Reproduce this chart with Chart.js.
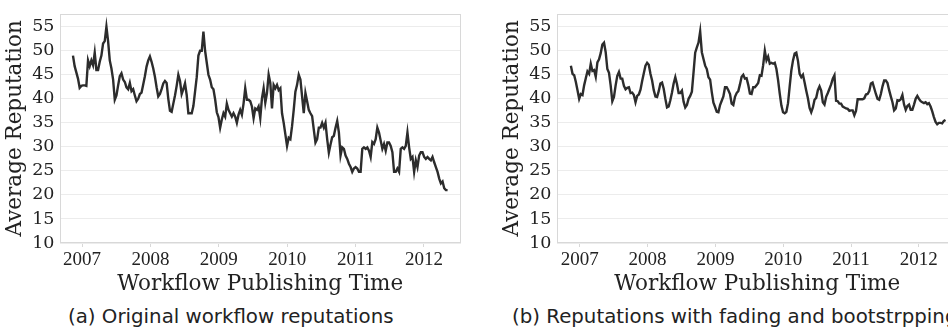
<!DOCTYPE html>
<html>
<head>
<meta charset="utf-8">
<script src="https://cdn.jsdelivr.net/npm/chart.js@4/dist/chart.umd.min.js"></script>
<style>
  html, body { margin: 0; padding: 0; background: #fff; }
  body { width: 948px; height: 330px; overflow: hidden; position: relative; }
  .box { position: absolute; top: 0; width: 474px; height: 300px; }
  #b1 { left: 0; }
  #b2 { left: 497px; }
  .cap { position: absolute; top: 305px; line-height: 24px; font-family: 'DejaVu Sans', sans-serif;
         font-size: 19.8px; color: #222; white-space: nowrap; }
  #cap1 { left: 68px; }
  #cap2 { left: 512px; }
</style>
</head>
<body>
<div class="box" id="b1"><canvas id="c1" width="474" height="300"></canvas></div>
<div class="box" id="b2"><canvas id="c2" width="474" height="300"></canvas></div>
<div class="cap" id="cap1">(a) Original workflow reputations</div>
<div class="cap" id="cap2">(b) Reputations with fading and bootstrpping</div>
<script>
// ---- data ----
const START_YEAR = 2006.868;      // first sample
const STEP_YEARS = 0.02445;       // sample spacing (years)
const yearTicks = [2007, 2008, 2009, 2010, 2011, 2012];
const repTicks = [10, 15, 20, 25, 30, 35, 40, 45, 50, 55];
const xTitle = 'Workflow Publishing Time';
const yTitle = 'Average Reputation';

// (a) original workflow reputations
const originalRep = [
  49, 46.8, 45.5, 44.2, 42.3, 42.7, 42.8, 42.8, 42.7, 48,
  46.8, 48, 47, 49.6, 46, 46, 47.7, 49, 51.5, 52,
  55, 52, 48, 46.3, 44, 39.8, 40.7, 42.8, 44.7, 45.3,
  44, 43.5, 42.4, 42, 43.3, 41.6, 42, 40.7, 39.5, 40,
  41, 41.3, 43, 44.7, 46.7, 48, 48.8, 47.7, 46.3, 44.6,
  42.4, 40.5, 41, 42, 43.2, 43.7, 43.3, 40, 37.5, 37.3,
  39, 40.7, 42.7, 45, 43.7, 41, 42, 43.2, 40.8, 37,
  37, 37, 38.5, 41.5, 44.5, 49, 50, 50, 54, 50,
  47.5, 45, 44, 42.4, 42, 39.9, 37.2, 36.2,
  34, 35.7, 37, 36.3, 39, 37.7, 37, 36.3, 37, 36.3,
  35, 36.7, 37.7, 36.7, 39, 42.2, 39.8, 39.8, 39.5, 38.4,
  36, 38, 37.7, 38.4, 36, 40.1, 42.2, 39.2, 41.2, 45,
  43.3, 38, 42.9, 42.2, 42.9, 41.8, 42.2, 37, 35, 32.6,
  30.2, 31.9, 31.6, 34.3, 37.7, 41.5, 42.9, 45, 44, 40.5,
  37, 41.2, 39.5, 37.7, 37, 36.4, 33.6, 30.9, 31.6, 34,
  34, 35, 34, 35, 31.6, 28.8,
  30.5, 32, 32.3, 34, 35.4, 33, 28.2, 29.9, 29.6, 28.2,
  27.5, 26.5, 25.8, 24.8, 25.5, 25.8, 25.5, 24.8, 24.8, 29.6,
  29.9, 29.6, 29.9, 29.2, 27.9, 31, 30.6, 31.6, 34, 33,
  31.3, 29.6, 30.6, 29.2, 30.9, 30.9, 30.2, 28.9, 24.8, 24.8,
  25.5, 24.8, 29.6, 29.9, 29.6, 30.2, 33, 29.9, 27.5, 27.9,
  24.8, 27.2, 25.8, 28.2, 28.9, 28.9, 27.9, 27.5, 27.9, 27.5,
  27.2, 27.9, 26.8, 25.8, 24.8, 23.4, 22.4, 22.8, 21.4, 21,
  21
];

// (b) reputations with fading and bootstrapping
const fadedRep = [
  46.9, 45.2, 44.9, 43.5, 41.8, 40, 41, 40.8, 42.8, 44.3,
  45.7, 45.2, 47.3, 45.8, 46, 44.6, 47.6, 48.2, 49.5, 51.3,
  51.7, 49.7, 46.2, 45.4, 42.8, 39.5, 40.4, 42.8, 44.8, 45.6,
  44.2, 44.2, 42.7, 42, 42.3, 42.4, 41.2, 41.3, 40.8, 39.3,
  40.6, 40.9, 41.9, 43.7, 45.3, 46.9, 47.5, 47.1, 45.2, 43.8,
  41.8, 40.5, 40.4, 41.6, 43.2, 43.4, 42.1, 40, 38.2, 38.4,
  39.7, 41.3, 43.2, 44.5, 43.1, 41.2, 41.2, 41.7, 39.4, 38.2,
  38.7, 40, 40.6,
  41.5, 45.5, 49.6, 50.7, 51.7, 54, 49.7, 48.3, 46.9, 46.2,
  44.5, 44, 41.4, 39.2, 38.3, 37.3, 37.2, 38.7, 39.6, 40.5,
  42.4, 42.4, 41.8, 41, 39, 38.7, 40.4, 41.2, 41.6, 43,
  44.6, 45, 44.2, 44.3, 42.9, 41.1, 41, 42.4, 42.4, 42.8,
  43.3, 44.9, 44.8, 47, 50, 48, 48.8, 47.3, 47.5, 47.3,
  47.5, 46.2, 43.9, 41.1, 38.6, 37.2, 37, 37.3, 39.1, 42.6,
  45.9, 48, 49.4, 49.6, 47.9, 45.2, 44.5, 45, 43.4, 41.7,
  40.1, 38.1, 37.2, 38.2, 39.8, 40.2, 41.8, 42.6,
  41.7, 39.3, 38.8, 40.4, 41.2, 42.1, 43, 44.2, 44.9, 39.6,
  39.5, 39, 39, 38.4, 38.2, 38, 37.9, 37.5, 37.6, 37.6,
  36.6, 37.5, 39.9, 39.9, 39.9, 39.9, 40.1, 40.9, 41, 41.6,
  43.2, 43.4, 42.2, 41, 40, 39.8, 41, 42.6, 43.8, 43.8,
  43.3, 41.8, 40.5, 39.3, 37.6, 38, 39.7, 39.6, 39.9, 40.8,
  38.8, 37.7, 38.5, 38.8, 37.7, 37.7, 38.8, 40, 40.6, 40,
  39.5, 39.3, 39.1, 39.3, 38.9, 39.1, 38.4, 37.4, 36.2, 35.2,
  34.7, 35, 35, 34.9, 35.4, 35.6
];

// ---- chart building ----
const frame = {
  id: 'frame',
  beforeDatasetsDraw(chart) {
    const { ctx, chartArea: a } = chart;
    ctx.save();
    ctx.strokeStyle = '#d8d8d8';
    ctx.lineWidth = 1;
    const l = Math.round(a.left) + 0.5, r = Math.round(a.right) - 0.5;
    const t = Math.round(a.top) + 0.5, b = Math.round(a.bottom) - 0.5;
    ctx.strokeRect(l, t, r - l, b - t);
    ctx.restore();
  }
};

function toPoints(vals) {
  return vals.map((v, i) => ({ x: START_YEAR + i * STEP_YEARS, y: v }));
}

function makeChart(id, vals, xmin, xmax) {
  return new Chart(document.getElementById(id), {
    type: 'line',
    data: {
      datasets: [{
        data: toPoints(vals),
        borderColor: '#2c2c2c',
        borderWidth: 2.4,
        pointRadius: 0,
        tension: 0,
        fill: false
      }]
    },
    options: {
      responsive: false,
      animation: false,
      devicePixelRatio: 1,
      layout: { padding: { top: 9.5, left: 0, right: 13, bottom: 0 } },
      plugins: { legend: { display: false }, tooltip: { enabled: false } },
      scales: {
        x: {
          type: 'linear',
          min: xmin,
          max: xmax,
          afterBuildTicks: s => { s.ticks = yearTicks.map(v => ({ value: v })); },
          afterFit: s => { s.height = 57; },
          ticks: {
            callback: v => String(v),
            autoSkip: false,
            maxRotation: 0,
            padding: 4,
            color: '#222',
            font: { family: 'Liberation Serif', size: 19, lineHeight: 1 }
          },
          grid: { drawOnChartArea: false, color: '#d8d8d8', tickLength: 4 },
          border: { display: false },
          title: {
            display: true,
            text: xTitle,
            color: '#222',
            font: { family: 'DejaVu Serif', size: 21.5 },
            padding: { top: 0, bottom: 3 }
          }
        },
        y: {
          type: 'linear',
          min: 10,
          max: 57.7,
          afterBuildTicks: s => { s.ticks = repTicks.map(v => ({ value: v })); },
          afterFit: s => { s.width = 59.5; },
          ticks: {
            padding: 5,
            color: '#222',
            font: { family: 'DejaVu Serif', size: 17.5, lineHeight: 1 }
          },
          grid: { color: '#ececec', drawTicks: false },
          border: { display: false },
          title: {
            display: true,
            text: yTitle,
            color: '#222',
            font: { family: 'DejaVu Serif', size: 21.5 },
            padding: { top: 3, bottom: 0 }
          }
        }
      }
    },
    plugins: [frame]
  });
}

makeChart('c1', originalRep, 2006.671, 2012.541);
makeChart('c2', fadedRep, 2006.656, 2012.578);
</script>
</body>
</html>
